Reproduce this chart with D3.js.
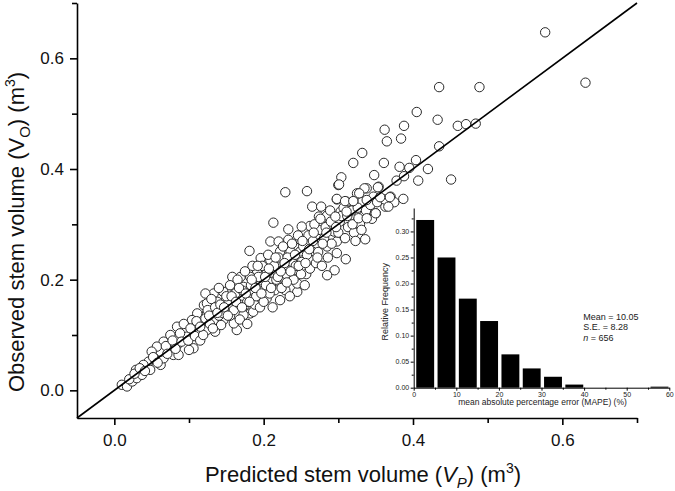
<!DOCTYPE html>
<html><head><meta charset="utf-8">
<script src="https://cdn.jsdelivr.net/npm/d3@7"></script>
<style>body{margin:0;background:#fff}svg{display:block;font-family:"Liberation Sans",Arial,sans-serif}</style>
</head><body><svg id="c" width="675" height="491"></svg>
<script>
// [predicted Vp, observed Vo] (m3)
const lowCluster = [[0.010,0.010],[0.017,0.007],[0.024,0.016],[0.030,0.022],[0.037,0.028],[0.029,0.037],[0.044,0.043],[0.046,0.052],[0.055,0.055],[0.062,0.046],[0.066,0.058],[0.062,0.070],[0.073,0.073],[0.079,0.064],[0.086,0.064],[0.084,0.082],[0.084,0.115],[0.095,0.109],[0.097,0.097],[0.106,0.076],[0.100,0.073],[0.113,0.106],[0.117,0.121],[0.124,0.139],[0.111,0.139],[0.124,0.109],[0.135,0.106],[0.133,0.127],[0.146,0.127],[0.151,0.145],[0.164,0.109],[0.160,0.121],[0.175,0.154],[0.182,0.139],[0.186,0.142],[0.173,0.136],[0.075,0.100],[0.066,0.088],[0.057,0.079],[0.050,0.070],[0.039,0.046],[0.048,0.037],[0.120,0.154],[0.137,0.154],[0.104,0.127],[0.088,0.103],
[0.020,0.020],[0.027,0.030],[0.034,0.040],[0.041,0.035],[0.052,0.060],[0.058,0.050],[0.069,0.080],[0.071,0.066],[0.078,0.090],[0.082,0.075],[0.090,0.088],[0.093,0.120],[0.099,0.090],[0.102,0.112],[0.108,0.098],[0.110,0.125],[0.115,0.090],[0.119,0.100],[0.122,0.130],[0.128,0.120],[0.130,0.145],[0.140,0.135],[0.143,0.118],[0.148,0.160],[0.155,0.135],[0.158,0.150],[0.168,0.128],[0.170,0.165],[0.178,0.120],[0.180,0.170]];
const midCluster = [[0.229,0.358],[0.258,0.360],[0.213,0.303],[0.233,0.291],[0.265,0.332],[0.277,0.332],[0.298,0.345],[0.300,0.371],[0.338,0.365],[0.354,0.368],[0.336,0.273],[0.310,0.237],[0.295,0.217],[0.285,0.208],[0.257,0.210],[0.245,0.178],[0.245,0.193],[0.181,0.252],[0.209,0.269],[0.220,0.269],[0.233,0.272],[0.249,0.272],[0.274,0.290],[0.287,0.299],[0.262,0.297],[0.251,0.296],[0.274,0.314],[0.285,0.316],[0.303,0.323],[0.311,0.305],[0.325,0.305],[0.350,0.320],[0.363,0.332],[0.370,0.350],[0.332,0.341],[0.320,0.341],[0.311,0.341],[0.325,0.356],[0.347,0.350],[0.294,0.287],[0.298,0.269],[0.298,0.248],[0.285,0.260],[0.271,0.260],[0.265,0.251],[0.249,0.251],[0.236,0.251],[0.222,0.251],[0.196,0.239],[0.209,0.235],[0.222,0.229],[0.238,0.232],[0.251,0.232],[0.265,0.235],[0.227,0.220],[0.240,0.217],[0.218,0.214],[0.204,0.211],[0.191,0.217],[0.182,0.205],[0.169,0.205],[0.158,0.205],[0.196,0.199],[0.211,0.196],[0.229,0.199],[0.173,0.187],[0.186,0.181],[0.200,0.181],[0.215,0.181],[0.229,0.181],[0.160,0.187],[0.146,0.178],[0.133,0.175],[0.122,0.175],[0.169,0.169],[0.186,0.166],[0.204,0.166],[0.222,0.163],[0.153,0.163],[0.138,0.160],[0.124,0.157]];
const bandCluster = [[0.125,0.145],[0.130,0.165],[0.135,0.150],[0.140,0.185],[0.145,0.140],[0.150,0.170],[0.155,0.190],[0.160,0.145],[0.162,0.175],[0.165,0.200],[0.168,0.155],[0.172,0.180],[0.175,0.215],[0.178,0.160],[0.183,0.190],[0.185,0.225],[0.188,0.155],[0.190,0.170],[0.193,0.205],[0.195,0.150],[0.198,0.225],[0.200,0.160],[0.203,0.190],[0.206,0.245],[0.208,0.175],[0.212,0.150],[0.214,0.225],[0.217,0.200],[0.220,0.240],[0.224,0.185],[0.226,0.260],[0.230,0.210],[0.232,0.240],[0.235,0.170],[0.238,0.265],[0.240,0.200],[0.243,0.225],[0.246,0.280],[0.250,0.210],[0.253,0.260],[0.255,0.190],[0.258,0.245],[0.260,0.280],[0.262,0.220],[0.266,0.270],[0.268,0.300],[0.270,0.230],[0.273,0.250],[0.276,0.310],[0.278,0.225],[0.281,0.275],[0.283,0.295],[0.286,0.240],[0.289,0.325],[0.291,0.265],[0.293,0.300],[0.300,0.285],[0.302,0.305],[0.307,0.330],[0.309,0.275],[0.313,0.295],[0.318,0.325],[0.321,0.285],[0.323,0.270],[0.326,0.330],[0.329,0.300],[0.331,0.290],[0.334,0.315],[0.337,0.325],[0.343,0.335],[0.345,0.310],[0.352,0.340],[0.362,0.345],[0.375,0.340],
[0.115,0.115],[0.127,0.135],[0.132,0.112],[0.138,0.140],[0.142,0.155],[0.147,0.150],[0.152,0.135],[0.157,0.170],[0.163,0.160],[0.167,0.185],[0.171,0.150],[0.176,0.175],[0.181,0.160],[0.184,0.200],[0.189,0.185],[0.192,0.225],[0.197,0.175],[0.202,0.205],[0.207,0.220],[0.210,0.185],[0.216,0.240],[0.219,0.205],[0.223,0.215],[0.228,0.230],[0.231,0.195],[0.236,0.215],[0.242,0.245],[0.247,0.225],[0.252,0.270],[0.256,0.230],[0.261,0.255],[0.267,0.285],[0.272,0.240],[0.279,0.265],[0.284,0.285],[0.290,0.305],[0.297,0.295],[0.304,0.315],[0.312,0.315],[0.319,0.300]];
const highCluster = [[0.577,0.647],[0.631,0.556],[0.435,0.548],[0.489,0.548],[0.405,0.503],[0.433,0.489],[0.460,0.478],[0.471,0.481],[0.484,0.482],[0.362,0.471],[0.388,0.478],[0.365,0.450],[0.384,0.455],[0.435,0.441],[0.332,0.429],[0.320,0.411],[0.361,0.411],[0.404,0.416],[0.382,0.404],[0.395,0.402],[0.420,0.400],[0.304,0.385],[0.301,0.372],[0.348,0.389],[0.378,0.379],[0.388,0.387],[0.407,0.379],[0.451,0.381],[0.335,0.365],[0.353,0.367],[0.328,0.356],[0.298,0.346],[0.309,0.342],[0.320,0.342],[0.338,0.344],[0.369,0.349],[0.387,0.346],[0.356,0.349],[0.367,0.332],[0.311,0.323],[0.350,0.320],[0.296,0.314],[0.327,0.311],[0.338,0.311]];

const mainTickValues = [0, 0.2, 0.4, 0.6];
const mainMinorValues = [0.1, 0.3, 0.5, 0.7];
const binStarts = [0,5,10,15,20,25,30,35,40,45,50,55];
const binFreq = [0.322,0.250,0.171,0.128,0.064,0.037,0.021,0.006,0,0,0,0.002];
const insetXTicks = [0,10,20,30,40,50,60];
const insetXMinor = [5,15,25,35,45,55];
const insetYTicks = [0,0.05,0.10,0.15,0.20,0.25,0.30];
const insetYMinor = [0.025,0.075,0.125,0.175,0.225,0.275,0.325];
const statsLines = [["Mean = 10.05"],["S.E. = 8.28"],["n"," = 656"]];

const svg = d3.select("#c");
const x = d3.scaleLinear().domain([-0.05,0.7]).range([77,637]);
const y = d3.scaleLinear().domain([-0.05,0.7]).range([418,3]);
const fmt1 = d3.format(".1f");

// main axes
const gx = svg.append("g").attr("transform","translate(0,418)")
  .call(d3.axisBottom(x).tickValues(mainTickValues).tickFormat(fmt1).tickSize(7).tickSizeOuter(0).tickPadding(9));
svg.append("g").attr("transform","translate(0,418)")
  .call(d3.axisBottom(x).tickValues(mainMinorValues).tickFormat("").tickSize(5).tickSizeOuter(0)).select(".domain").remove();
const gy = svg.append("g").attr("transform","translate(77,0)")
  .call(d3.axisLeft(y).tickValues(mainTickValues).tickFormat(fmt1).tickSize(7).tickSizeOuter(0).tickPadding(6));
svg.append("g").attr("transform","translate(77,0)")
  .call(d3.axisLeft(y).tickValues(mainMinorValues).tickFormat("").tickSize(5).tickSizeOuter(0)).select(".domain").remove();
svg.selectAll(".domain, .tick line").attr("stroke","#000").attr("stroke-width",1.6);
gx.selectAll("text").attr("font-size",17).attr("fill","#111");
gy.selectAll("text").attr("font-size",17).attr("fill","#111");

// points
const allPts = lowCluster.concat(midCluster, bandCluster, highCluster);
svg.append("g").selectAll("circle").data(allPts).join("circle")
  .attr("cx",d=>x(d[0])).attr("cy",d=>y(d[1])).attr("r",4.7)
  .attr("fill","#fff").attr("stroke","#2a2a2a").attr("stroke-width",1);

// 1:1 line
svg.append("line").attr("x1",x(-0.05)).attr("y1",y(-0.05)).attr("x2",x(0.7)).attr("y2",y(0.7))
  .attr("stroke","#000").attr("stroke-width",1.6);

// titles
const xt = svg.append("text").attr("x",363).attr("y",482).attr("text-anchor","middle").attr("font-size",22).attr("fill","#111");
xt.append("tspan").text("Predicted stem volume (");
xt.append("tspan").attr("font-style","italic").text("V");
xt.append("tspan").attr("font-style","italic").attr("font-size",15).attr("dy",6).text("P");
xt.append("tspan").attr("dy",-6).text(") (m");
xt.append("tspan").attr("font-size",14).attr("dy",-9).text("3");
xt.append("tspan").attr("dy",9).text(")");

const yt = svg.append("text").attr("transform","translate(24,232) rotate(-90)").attr("text-anchor","middle").attr("font-size",22).attr("fill","#111");
yt.append("tspan").text("Observed stem volume (V");
yt.append("tspan").attr("font-size",15).attr("dy",6).text("O");
yt.append("tspan").attr("dy",-6).text(") (m");
yt.append("tspan").attr("font-size",14).attr("dy",-9).text("3");
yt.append("tspan").attr("dy",9).text(")");

// inset histogram
const xi = d3.scaleLinear().domain([0,60]).range([413.7,669.3]);
const yi = d3.scaleLinear().domain([0,0.345]).range([387.7,208]);
const inset = svg.append("g");
inset.selectAll("rect").data(binStarts.map((b,i)=>({b, f: binFreq[i]})).filter(d=>d.f>0)).join("rect")
  .attr("x",d=>xi(d.b+0.6)).attr("width",d=>xi(d.b+4.8)-xi(d.b+0.6))
  .attr("y",d=>yi(d.f)).attr("height",d=>Math.max(1,yi(0)-yi(d.f))).attr("fill","#000");
const ix = inset.append("g").attr("transform","translate(0,387.7)")
  .call(d3.axisBottom(xi).tickValues(insetXTicks).tickFormat(d3.format("d")).tickSize(3).tickSizeOuter(0).tickPadding(1.5));
inset.append("g").attr("transform","translate(0,387.7)")
  .call(d3.axisBottom(xi).tickValues(insetXMinor).tickFormat("").tickSize(2).tickSizeOuter(0)).select(".domain").remove();
const iy = inset.append("g").attr("transform","translate(413.7,0)")
  .call(d3.axisLeft(yi).tickValues(insetYTicks).tickFormat(d3.format(".2f")).tickSize(3).tickSizeOuter(0).tickPadding(1.5));
inset.append("g").attr("transform","translate(413.7,0)")
  .call(d3.axisLeft(yi).tickValues(insetYMinor).tickFormat("").tickSize(2).tickSizeOuter(0)).select(".domain").remove();
inset.selectAll(".domain, .tick line").attr("stroke","#000").attr("stroke-width",1);
ix.selectAll("text").attr("font-size",7).attr("fill","#222");
iy.selectAll("text").attr("font-size",7).attr("fill","#222");

inset.append("text").attr("x",542.5).attr("y",405).attr("text-anchor","middle").attr("font-size",8.5).attr("fill","#222")
  .text("mean absolute percentage error (MAPE) (%)");
inset.append("text").attr("transform","translate(388,301.7) rotate(-90)").attr("text-anchor","middle").attr("font-size",9).attr("fill","#222")
  .text("Relative Frequency");
statsLines.forEach((ln,i)=>{
  const t = inset.append("text").attr("x",583.3).attr("y",320+i*10.3).attr("font-size",9).attr("fill","#222");
  if (ln.length===2){ t.append("tspan").attr("font-style","italic").text(ln[0]); t.append("tspan").text(ln[1]); }
  else t.text(ln[0]);
});
</script></body></html>
